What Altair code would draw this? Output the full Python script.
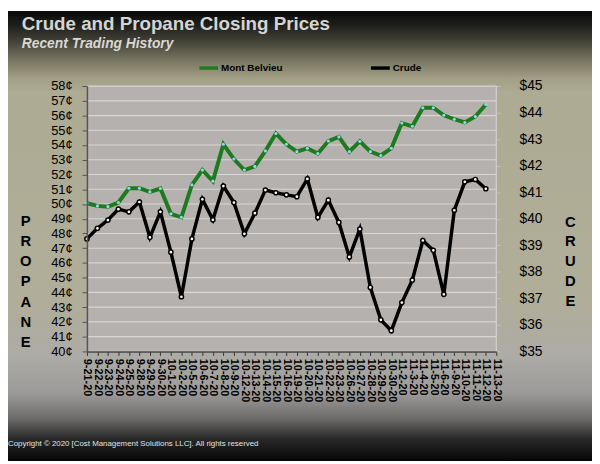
import altair as alt
import pandas as pd

dates = ["9-21-20", "9-22-20", "9-23-20", "9-24-20", "9-25-20", "9-28-20", "9-29-20", "9-30-20",
         "10-1-20", "10-2-20", "10-5-20", "10-6-20", "10-7-20", "10-8-20", "10-9-20", "10-12-20",
         "10-13-20", "10-14-20", "10-15-20", "10-16-20", "10-19-20", "10-20-20", "10-21-20", "10-22-20",
         "10-23-20", "10-26-20", "10-27-20", "10-28-20", "10-29-20", "10-30-20", "11-2-20", "11-3-20",
         "11-4-20", "11-5-20", "11-6-20", "11-9-20", "11-10-20", "11-11-20", "11-12-20", "11-13-20"]

propane = [50.05, 49.87, 49.82, 50.10, 51.07, 51.07, 50.82, 51.05, 49.33, 49.10,
           51.30, 52.30, 51.55, 54.05, 53.05, 52.30, 52.55, 53.60, 54.78, 54.05,
           53.55, 53.78, 53.42, 54.27, 54.55, 53.55, 54.25, 53.55, 53.29, 53.78,
           55.49, 55.27, 56.53, 56.53, 56.02, 55.75, 55.53, 55.93, 56.75]

crude = [39.24, 39.64, 39.95, 40.36, 40.26, 40.63, 39.30, 40.26, 38.74, 37.06,
         39.24, 40.73, 39.96, 41.23, 40.61, 39.43, 40.21, 41.08, 40.98, 40.90,
         40.83, 41.50, 40.05, 40.70, 39.86, 38.56, 39.61, 37.41, 36.19, 35.78,
         36.84, 37.69, 39.18, 38.81, 37.15, 40.32, 41.39, 41.48, 41.13]

series_names = ["Mont Belvieu", "Crude"]
propane_ticks = list(range(40, 59))
crude_ticks = list(range(35, 46))

W, H = 415, 269
FONT = "Liberation Sans"
GREEN = "#1e7a1e"

n = len(propane)
df_p = pd.DataFrame({"date": dates[:n], "value": propane, "series": series_names[0]})
df_c = pd.DataFrame({"date": dates[:n], "value": crude, "series": series_names[1]})
df_grid = pd.DataFrame({"g": propane_ticks})
one = pd.DataFrame({"a": [0]})

xscale = alt.Scale(domain=dates, type="point", padding=0)
xaxis = alt.Axis(labelAngle=90, labelAlign="left", labelBaseline="middle", labelFont=FONT,
                 labelFontSize=11, labelFontWeight="bold", labelColor="black", labelOverlap=False,
                 tickSize=4, tickColor="#333", domainColor="#444", domainWidth=1.5,
                 labelPadding=3, title=None, zindex=1, grid=False)
X = alt.X("date:N", sort=dates, scale=xscale, axis=xaxis)

pscale = alt.Scale(domain=[40, 58], nice=False, zero=False)
cscale = alt.Scale(domain=[35, 45], nice=False, zero=False)

color = alt.Color("series:N", scale=alt.Scale(domain=series_names, range=[GREEN, "#000000"]),
                  legend=alt.Legend(orient="none", legendX=112, legendY=-30, direction="horizontal",
                                    title=None, symbolType="stroke", symbolStrokeWidth=3.5,
                                    symbolSize=360, labelFont=FONT, labelFontSize=10,
                                    labelFontWeight="bold", labelColor="black", columnPadding=82,
                                    labelOffset=1, zindex=1))

grad = alt.LinearGradient(
    gradient="linear", x1=0, x2=0, y1=0, y2=1,
    stops=[
        alt.GradientStop(color="#0a0a0a", offset=0.0),
        alt.GradientStop(color="#1d1d1a", offset=0.03),
        alt.GradientStop(color="#46453a", offset=0.07),
        alt.GradientStop(color="#7f7c66", offset=0.115),
        alt.GradientStop(color="#a29f86", offset=0.15),
        alt.GradientStop(color="#aeab94", offset=0.18),
        alt.GradientStop(color="#b0ad99", offset=0.64),
        alt.GradientStop(color="#adaba6", offset=0.77),
        alt.GradientStop(color="#9c9a99", offset=0.85),
        alt.GradientStop(color="#6e6d6c", offset=0.905),
        alt.GradientStop(color="#2a2a2a", offset=0.95),
        alt.GradientStop(color="#050505", offset=1.0),
    ])

bg = alt.Chart(one).mark_rect(fill=grad).encode(
    x=alt.value(-80), x2=alt.value(512), y=alt.value(-76), y2=alt.value(380))
plotbg = alt.Chart(one).mark_rect(fill="#b4b1af").encode(
    x=alt.value(0), x2=alt.value(W), y=alt.value(0), y2=alt.value(H))
grid = alt.Chart(df_grid).mark_rule(color="#d8d6d4", strokeWidth=1.2).encode(
    y=alt.Y("g:Q", scale=pscale, axis=None))
rightedge = alt.Chart(one).mark_rule(color="#d4d2d0", strokeWidth=1.2).encode(
    x=alt.value(W), y=alt.value(0), y2=alt.value(H))

p_line = alt.Chart(df_p).mark_line(strokeWidth=4).encode(
    x=X,
    y=alt.Y("value:Q", scale=pscale,
            axis=alt.Axis(orient="left", values=propane_ticks, labelExpr="datum.value + '¢'",
                          labelFont=FONT, labelFontSize=13, labelColor="black", tickSize=5,
                          tickColor="#555", domainColor="#555", domainWidth=1.5, labelPadding=10,
                          grid=False, title=None, zindex=1)),
    color=color)
p_pts = alt.Chart(df_p).mark_point(filled=True, fill="#8fd8ea", size=10, opacity=1).encode(
    x=X, y=alt.Y("value:Q", scale=pscale, axis=None))

c_line = alt.Chart(df_c).mark_line(strokeWidth=3.5).encode(
    x=X,
    y=alt.Y("value:Q", scale=cscale,
            axis=alt.Axis(orient="right", values=crude_ticks, labelExpr="'$' + datum.value",
                          labelFont=FONT, labelFontSize=14, labelColor="black", tickSize=4,
                          tickColor="#c4c2bc", domain=False, labelPadding=19,
                          grid=False, title=None, zindex=1)),
    color=color)
c_pts = alt.Chart(df_c).mark_point(filled=True, fill="white", stroke="black", strokeWidth=1.5,
                                   size=18, opacity=1).encode(
    x=X, y=alt.Y("value:Q", scale=cscale, axis=None))

title = alt.Chart(one).mark_text(align="left", baseline="alphabetic", font=FONT, fontSize=19,
                                 fontWeight="bold", color="#d4d4d2").encode(
    x=alt.value(-66), y=alt.value(-57), text=alt.value("Crude and Propane Closing Prices"))
subtitle = alt.Chart(one).mark_text(align="left", baseline="alphabetic", font=FONT, fontSize=14,
                                    fontWeight="bold", fontStyle="italic", color="#d8d8d6").encode(
    x=alt.value(-66), y=alt.value(-38.5), text=alt.value("Recent Trading History"))
left_lab = alt.Chart(one).mark_text(align="center", baseline="middle", font=FONT, fontSize=15,
                                    fontWeight="bold", color="black", lineHeight=20.5).encode(
    x=alt.value(-62), y=alt.value(136.5), text=alt.value(["P", "R", "O", "P", "A", "N", "E"]))
right_lab = alt.Chart(one).mark_text(align="center", baseline="middle", font=FONT, fontSize=15,
                                     fontWeight="bold", color="black", lineHeight=20).encode(
    x=alt.value(490), y=alt.value(137.5), text=alt.value(["C", "R", "U", "D", "E"]))
copy = alt.Chart(one).mark_text(align="left", baseline="alphabetic", font=FONT, fontSize=8,
                                color="#e0e0e0").encode(
    x=alt.value(-80), y=alt.value(365),
    text=alt.value("Copyright \u00a9 2020 [Cost Management Solutions LLC].  All rights reserved"))

chart = alt.layer(bg, plotbg, grid, rightedge, p_line, p_pts, c_line, c_pts,
                  title, subtitle, left_lab, right_lab, copy).resolve_scale(
    y="independent").properties(
    width=W, height=H,
    autosize=alt.AutoSizeParams(type="none"),
    padding={"left": 80, "top": 76, "right": 97, "bottom": 111},
).configure_view(stroke=None)

chart.save("out.html", embed_options={"renderer": "svg", "actions": False})
